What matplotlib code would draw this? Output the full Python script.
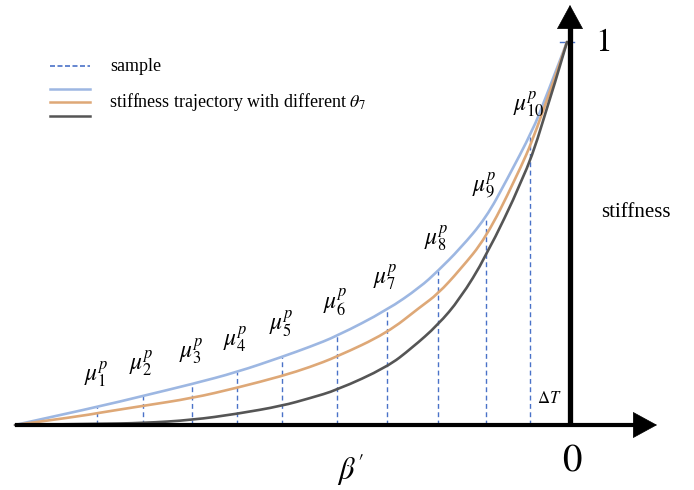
"""
Stiffness trajectory sketch: three curves with different theta_7,
dashed sample lines mu_1^p .. mu_10^p, arrowed axes.
"""

import matplotlib
matplotlib.use("Agg")
import matplotlib.pyplot as plt
from matplotlib.path import Path
from matplotlib.patches import PathPatch

plt.rcParams["mathtext.fontset"] = "stix"

# ---------------------------------------------------------------------------
# data (beta' runs from -1 at the far left to 0 at the vertical axis)
# ---------------------------------------------------------------------------
blue_t = [-1.0, -0.851, -0.768, -0.679, -0.598, -0.516, -0.466, -0.417, -0.326,
          -0.266, -0.234, -0.194, -0.147, -0.109, -0.062, -0.040, 0.0]
blue_s = [0.0, 0.047, 0.076, 0.107, 0.138, 0.178, 0.204, 0.232, 0.300,
          0.360, 0.402, 0.460, 0.540, 0.640, 0.770, 0.849, 1.0]

orange_t = [-1.0, -0.882, -0.851, -0.768, -0.679, -0.598, -0.516, -0.466, -0.417,
            -0.326, -0.266, -0.234, -0.194, -0.147, -0.094, -0.054, 0.0]
orange_s = [0.0, 0.023, 0.031, 0.050, 0.070, 0.097, 0.128, 0.151, 0.178,
            0.240, 0.308, 0.342, 0.405, 0.488, 0.640, 0.770, 1.0]

gray_t = [-1.0, -0.851, -0.768, -0.679, -0.598, -0.516, -0.466, -0.417, -0.326,
          -0.281, -0.234, -0.194, -0.147, -0.080, -0.047, 0.0]
gray_s = [0.0, 0.003, 0.005, 0.013, 0.029, 0.050, 0.070, 0.091, 0.151,
          0.201, 0.261, 0.329, 0.439, 0.640, 0.770, 1.0]

sample_t = [-0.851, -0.768, -0.679, -0.598, -0.516, -0.417, -0.326, -0.234, -0.147, -0.067]
sample_s = [0.047, 0.076, 0.107, 0.138, 0.178, 0.232, 0.300, 0.402, 0.540, 0.752]
sample_labels = [rf"$\mu_{{{i}}}^{{p}}$" for i in range(1, 11)]

C_BLUE, C_ORANGE, C_GRAY, C_DASH = "#9db7e2", "#dea877", "#555555", "#4a72c8"

# pixel frame of the reference: beta'=-1 at x=15, beta'=0 at x=567,
# stiffness 0 at y=425, stiffness 1 at y=42
W, H = 694, 490
X0, X1, Y0, Y1 = 15, 567, 425, 42
SX, SY = X1 - X0, Y0 - Y1


def px(x, y):
    return (x - X1) / SX, (Y0 - y) / SY


def smooth_curve(ax, xs, ys, **kw):
    # quadratic bezier through midpoints, data points act as control points
    pts = list(zip(xs, ys))
    verts = [pts[0]]
    codes = [Path.MOVETO]
    for i in range(1, len(pts) - 1):
        mid = ((pts[i][0] + pts[i + 1][0]) / 2, (pts[i][1] + pts[i + 1][1]) / 2)
        if i == len(pts) - 2:
            mid = pts[-1]
        verts += [pts[i], mid]
        codes += [Path.CURVE3, Path.CURVE3]
    ax.add_patch(PathPatch(Path(verts, codes), fill=False, capstyle="round", **kw))


fig = plt.figure(figsize=(W / 100, H / 100), dpi=100)
ax = fig.add_axes([0, 0, 1, 1])
ax.set_axis_off()
ax.set_xlim(-X1 / SX, (W - X1) / SX)
ax.set_ylim((Y0 - H) / SY, Y0 / SY)

# curves
smooth_curve(ax, blue_t, blue_s, edgecolor=C_BLUE, lw=1.9, zorder=3)
smooth_curve(ax, orange_t, orange_s, edgecolor=C_ORANGE, lw=1.9, zorder=3)
smooth_curve(ax, gray_t, gray_s, edgecolor=C_GRAY, lw=1.9, zorder=3)

# dashed samples
for t, s, lab in zip(sample_t, sample_s, sample_labels):
    ax.plot([t, t], [0, s], color=C_DASH, lw=1.0, ls=(0, (3.5, 2.5)), zorder=2)
    ax.annotate(lab, (t, s), xytext=(-1, 24), textcoords="offset points",
                ha="center", va="center", fontsize=17)
ax.plot([-0.013, 0.013], [1.0, 1.0], color=C_DASH, lw=1.0, zorder=2)

# axes with arrows
xa = px(570, 425)[0]
ax.plot([-1.0, px(640, 0)[0]], [0, 0], color="black", lw=3.0, zorder=4,
        solid_capstyle="butt")
ax.plot([xa, xa], [0, px(0, 22)[1]], color="black", lw=3.8, zorder=4,
        solid_capstyle="butt")
ax.annotate("", xy=px(657, 425), xytext=px(635, 425),
            arrowprops=dict(arrowstyle="-|>,head_length=0.55,head_width=0.3",
                            mutation_scale=30, color="black", lw=0.5,
                            shrinkA=0, shrinkB=0), zorder=5)
ax.annotate("", xy=px(570, 5), xytext=px(570, 27),
            arrowprops=dict(arrowstyle="-|>,head_length=0.55,head_width=0.3",
                            mutation_scale=30, color="black", lw=0.5,
                            shrinkA=0, shrinkB=0), zorder=5)

# axis texts
ax.text(*px(603, 41), "$1$", fontsize=24, ha="center", va="center")
ax.text(*px(572, 459), "$0$", fontsize=28, ha="center", va="center")
ax.text(*px(350, 470), r"$\beta'$", fontsize=22, ha="center", va="center")
ax.text(*px(549, 398), r"$\Delta T$", fontsize=12, ha="center", va="center")
ax.text(*px(636, 212), "stiffness", fontsize=15, ha="center", va="center",
        family="Liberation Serif")

# legend (drawn by hand)
ax.plot([px(50, 0)[0], px(90, 0)[0]], [px(0, 66)[1]] * 2, color=C_DASH, lw=1.2,
        ls=(0, (3, 1.5)))
for yy, c in [(89, C_BLUE), (102, C_ORANGE), (116, C_GRAY)]:
    ax.plot([px(50, 0)[0], px(90, 0)[0]], [px(0, yy)[1]] * 2, color=c, lw=1.8)
ax.text(*px(110, 66), "sample", fontsize=13, ha="left", va="center",
        family="Liberation Serif")
ax.text(*px(109, 102), r"stiffness trajectory with different $\theta_7$",
        fontsize=13, ha="left", va="center", family="Liberation Serif")

fig.savefig("out.png", dpi=100)
